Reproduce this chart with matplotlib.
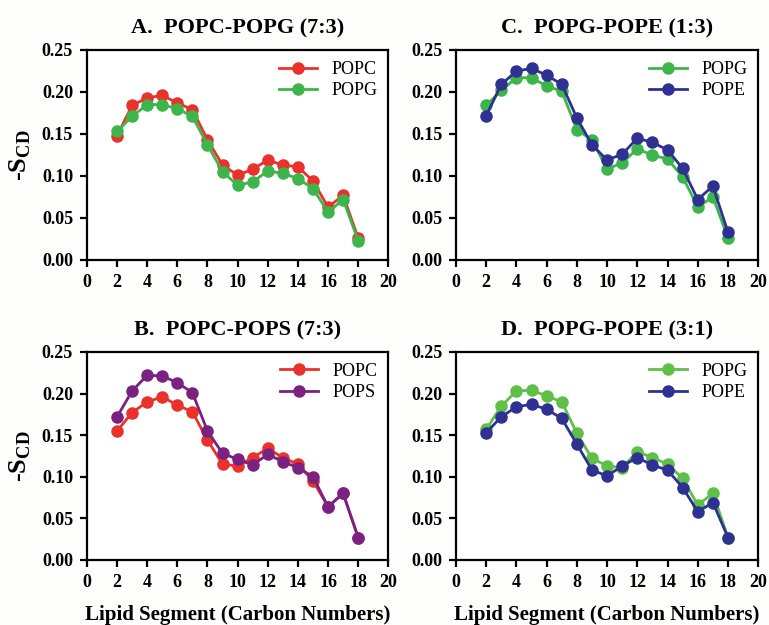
import matplotlib
matplotlib.use('Agg')
import matplotlib.pyplot as plt

plt.rcParams['font.family'] = 'Liberation Serif'
plt.rcParams['font.weight'] = 'bold'
plt.rcParams['mathtext.fontset'] = 'custom'
plt.rcParams['mathtext.rm'] = 'Liberation Serif'
plt.rcParams['mathtext.bf'] = 'Liberation Serif:bold'

carbons = list(range(2, 19))

# A. POPC-POPG (7:3)
a_popc = [0.148, 0.184, 0.193, 0.196, 0.187, 0.179, 0.143, 0.113, 0.101,
          0.108, 0.119, 0.113, 0.111, 0.094, 0.063, 0.077, 0.026]
a_popg = [0.153, 0.171, 0.185, 0.185, 0.180, 0.171, 0.137, 0.105, 0.089,
          0.093, 0.106, 0.103, 0.097, 0.085, 0.057, 0.072, 0.023]

# B. POPC-POPS (7:3)
b_popc = [0.155, 0.177, 0.190, 0.196, 0.186, 0.178, 0.144, 0.115, 0.113,
          0.123, 0.134, 0.123, 0.115, 0.095, 0.064, 0.080, 0.027]
b_pops = [0.172, 0.203, 0.222, 0.221, 0.213, 0.201, 0.155, 0.128, 0.121,
          0.114, 0.127, 0.118, 0.111, 0.100, 0.064, 0.080, 0.027]

# C. POPG-POPE (1:3)
c_popg = [0.184, 0.202, 0.217, 0.217, 0.207, 0.201, 0.155, 0.143, 0.108,
          0.116, 0.132, 0.125, 0.120, 0.099, 0.063, 0.075, 0.026]
c_pope = [0.172, 0.209, 0.225, 0.228, 0.220, 0.209, 0.169, 0.137, 0.119,
          0.126, 0.145, 0.140, 0.131, 0.109, 0.072, 0.088, 0.033]

# D. POPG-POPE (3:1)
d_popg = [0.157, 0.185, 0.203, 0.204, 0.197, 0.190, 0.152, 0.122, 0.113,
          0.111, 0.130, 0.123, 0.115, 0.098, 0.066, 0.080, 0.027]
d_pope = [0.153, 0.172, 0.184, 0.187, 0.181, 0.170, 0.139, 0.108, 0.101,
          0.113, 0.123, 0.114, 0.108, 0.087, 0.058, 0.069, 0.027]

RED = '#e8322b'
GREEN = '#3db54a'
LGREEN = '#5fbf46'
NAVY = '#2e3192'
PURPLE = '#7a2182'

panels = [
    ([0.113, 0.584, 0.392, 0.336], 'A.  POPC-POPG (7:3)',
     [(a_popc, 'POPC', RED), (a_popg, 'POPG', GREEN)], True, False),
    ([0.113, 0.104, 0.392, 0.333], 'B.  POPC-POPS (7:3)',
     [(b_popc, 'POPC', RED), (b_pops, 'POPS', PURPLE)], True, True),
    ([0.593, 0.584, 0.393, 0.336], 'C.  POPG-POPE (1:3)',
     [(c_popg, 'POPG', GREEN), (c_pope, 'POPE', NAVY)], False, False),
    ([0.593, 0.104, 0.393, 0.333], 'D.  POPG-POPE (3:1)',
     [(d_popg, 'POPG', LGREEN), (d_pope, 'POPE', NAVY)], False, True),
]

fig = plt.figure(figsize=(7.69, 6.25), dpi=100)
fig.patch.set_facecolor('#fdfdfb')

for rect, title, series, show_ylabel, show_xlabel in panels:
    ax = fig.add_axes(rect)
    ax.set_facecolor('white')
    for vals, name, col in series:
        ax.plot(carbons, vals, '-o', color=col, lw=2, ms=8, label=name)
    ax.set_xlim(0, 20)
    ax.set_ylim(0, 0.25)
    ax.set_xticks(range(0, 21, 2))
    ax.set_yticks([0, 0.05, 0.10, 0.15, 0.20, 0.25])
    ax.set_yticklabels(['0.00', '0.05', '0.10', '0.15', '0.20', '0.25'])
    for s in ax.spines.values():
        s.set_linewidth(1.6)
    ax.tick_params(direction='out', length=5, width=1.6, labelsize=13, pad=5)
    for lab in ax.get_xticklabels() + ax.get_yticklabels():
        lab.set_fontweight('bold')
    ax.set_title(title, fontsize=16, fontweight='bold', pad=12)
    if show_ylabel:
        ax.set_ylabel(r'-S$_{\mathbf{CD}}$', fontsize=19, fontweight='bold', labelpad=6)
    if show_xlabel:
        ax.set_xlabel('Lipid Segment (Carbon Numbers)', fontsize=15,
                      fontweight='bold', labelpad=10)
    ax.legend(loc='upper right', frameon=False,
              prop={'family': 'Liberation Serif', 'weight': 'normal', 'size': 13},
              handlelength=2.1, borderaxespad=0.2, labelspacing=0.25)

fig.savefig('out.png', dpi=100, facecolor=fig.get_facecolor())
